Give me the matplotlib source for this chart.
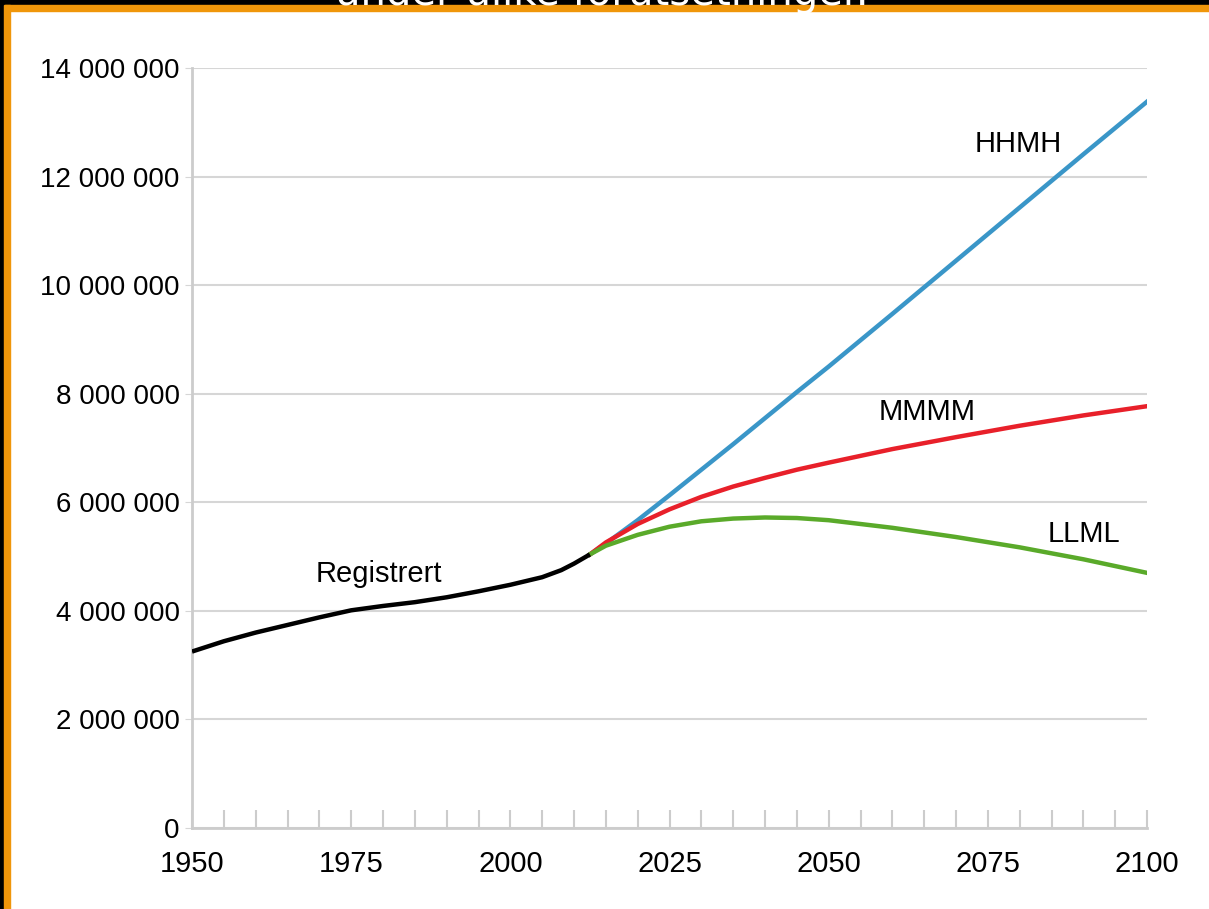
import matplotlib.pyplot as plt
from matplotlib.patches import Rectangle
from matplotlib.ticker import MultipleLocator, FuncFormatter

plt.rcParams['font.family'] = ['Liberation Sans', 'DejaVu Sans']

# Registered population
reg_years = [1950, 1955, 1960, 1965, 1970, 1975, 1980, 1985, 1990, 1995, 2000, 2005, 2008, 2010, 2012.5]
reg_pop = [3.25e6, 3.44e6, 3.6e6, 3.74e6, 3.88e6, 4.01e6, 4.09e6, 4.16e6, 4.25e6, 4.36e6, 4.48e6, 4.62e6, 4.75e6, 4.87e6, 5.04e6]

# Projections
proj_years = [2012.5, 2015, 2020, 2025, 2030, 2035, 2040, 2045, 2050, 2060, 2070, 2080, 2090, 2100]
hhmh = [5.04e6, 5.24e6, 5.67e6, 6.13e6, 6.6e6, 7.07e6, 7.55e6, 8.03e6, 8.5e6, 9.47e6, 10.45e6, 11.43e6, 12.41e6, 13.38e6]
mmmm = [5.04e6, 5.26e6, 5.6e6, 5.87e6, 6.1e6, 6.29e6, 6.45e6, 6.6e6, 6.73e6, 6.98e6, 7.2e6, 7.41e6, 7.6e6, 7.77e6]
llml = [5.04e6, 5.2e6, 5.4e6, 5.55e6, 5.65e6, 5.7e6, 5.72e6, 5.71e6, 5.67e6, 5.53e6, 5.36e6, 5.17e6, 4.95e6, 4.7e6]

fig = plt.figure(figsize=(12.09, 9.09), dpi=100)
fig.patch.set_facecolor('white')

# frame: black border with orange inner line (top and left)
fig.patches.append(Rectangle((0, 1 - 5 / 909), 1, 5 / 909, transform=fig.transFigure, color='black', zorder=0))
fig.patches.append(Rectangle((0, 1 - 11 / 909), 1, 6 / 909, transform=fig.transFigure, color='#f0960a', zorder=0))
fig.patches.append(Rectangle((0, 0), 4 / 1209, 1, transform=fig.transFigure, color='black', zorder=0))
fig.patches.append(Rectangle((4 / 1209, 0), 6 / 1209, 1 - 5 / 909, transform=fig.transFigure, color='#f0960a', zorder=0))
fig.text(0.498, 1 - 5 / 909, 'under ulike forutsetninger.', color='white', fontsize=29,
         family='DejaVu Sans', ha='center', va='baseline', zorder=5)

ax = fig.add_axes([192 / 1209, 1 - 828 / 909, (1147 - 192) / 1209, (828 - 68) / 909])
ax.plot(reg_years, reg_pop, color='black', lw=3.2, solid_capstyle='butt', zorder=4)
ax.plot(proj_years, hhmh, color='#3a96c8', lw=3.2, zorder=2)
ax.plot(proj_years, mmmm, color='#e8202a', lw=3.2, zorder=2.5)
ax.plot(proj_years, llml, color='#5aaa2a', lw=3.2, zorder=3)

ax.text(2079.7, 12.6e6, 'HHMH', fontsize=21, ha='center', va='center')
ax.text(2065.4, 7.66e6, 'MMMM', fontsize=21, ha='center', va='center')
ax.text(2090.1, 5.42e6, 'LLML', fontsize=21, ha='center', va='center')
ax.text(1979.4, 4.68e6, 'Registrert', fontsize=21, ha='center', va='center')

ax.set_xlim(1950, 2100)
ax.set_ylim(0, 14e6)
ax.yaxis.set_major_locator(MultipleLocator(2e6))
ax.yaxis.set_major_formatter(FuncFormatter(lambda v, p: f"{int(v):,}".replace(',', ' ')))
ax.xaxis.set_major_locator(MultipleLocator(25))
ax.xaxis.set_minor_locator(MultipleLocator(5))
ax.grid(axis='y', color='#d6d6d6', lw=1.5)
ax.set_axisbelow(True)

for s in ['top', 'right']:
    ax.spines[s].set_visible(False)
for s in ['left', 'bottom']:
    ax.spines[s].set_color('#cccccc')
    ax.spines[s].set_linewidth(2)

ax.tick_params(axis='y', length=5, color='#d6d6d6', labelsize=20, pad=4)
ax.tick_params(axis='x', which='both', direction='in', length=13, color='#cccccc', width=1.5,
               labelsize=21, pad=16)

fig.savefig('out.png', dpi=100)
